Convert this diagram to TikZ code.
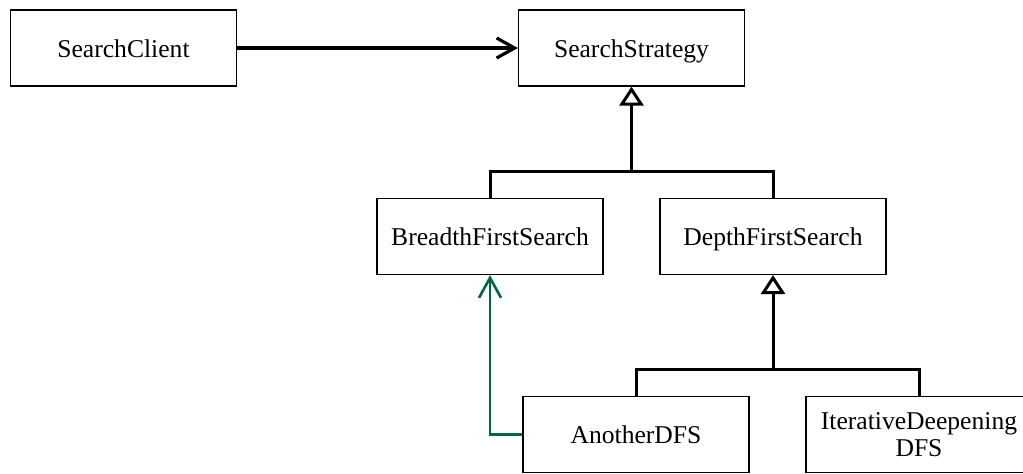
\documentclass[tikz,border=0pt]{standalone}
\usepackage{fontspec}
\setmainfont{Liberation Serif}
\usetikzlibrary{arrows.meta,positioning,calc}
\definecolor{usesgreen}{RGB}{0,102,68}
\tikzset{
  classbox/.style={draw, line width=0.6pt, minimum width=113pt, minimum height=38pt, inner sep=2pt, font=\fontsize{12.8}{13.5}\selectfont, align=center},
  oneline/.style={classbox, text height=11pt, text depth=2pt},
  branch/.style={line width=1.5pt},
  inherit/.style={line width=1.5pt, -{Triangle[open, length=9.5pt, width=12pt]}},
  assoc/.style={line width=1.6pt, -{Straight Barb[length=9pt, width=10pt]}},
  uses/.style={usesgreen, line width=1.3pt, -{Straight Barb[length=10pt, width=11pt]}}
}
\begin{document}
\begin{tikzpicture}[x=0.5pt, y=-0.5pt]
  \useasboundingbox (0,0) rectangle (1023,473);

  % Classes
  \node[oneline] (client) at (123.5,48) {SearchClient};
  \node[oneline] (strategy) at (631.5,48) {SearchStrategy};
  \node[oneline] (bfs) at (490,236.5) {BreadthFirstSearch};
  \node[oneline] (dfs) at (773,236.5) {DepthFirstSearch};
  \node[oneline] (another) at (636,434.5) {AnotherDFS};
  \node[classbox] (iterdfs) at (919,434.5) {IterativeDeepening\\DFS};

  % Association
  \draw[assoc] (client) -- (strategy);

  % Generalisations
  \coordinate (join1) at (631.5,171);
  \draw[branch] (bfs.north) |- (join1) -| (dfs.north);
  \draw[inherit] (join1) -- (strategy.south);
  \coordinate (join2) at (773,369);
  \draw[branch] (another.north) |- (join2) -| (iterdfs.north);
  \draw[inherit] (join2) -- (dfs.south);

  % Uses
  \draw[uses] (another.west) -| (bfs.south);
\end{tikzpicture}
\end{document}
